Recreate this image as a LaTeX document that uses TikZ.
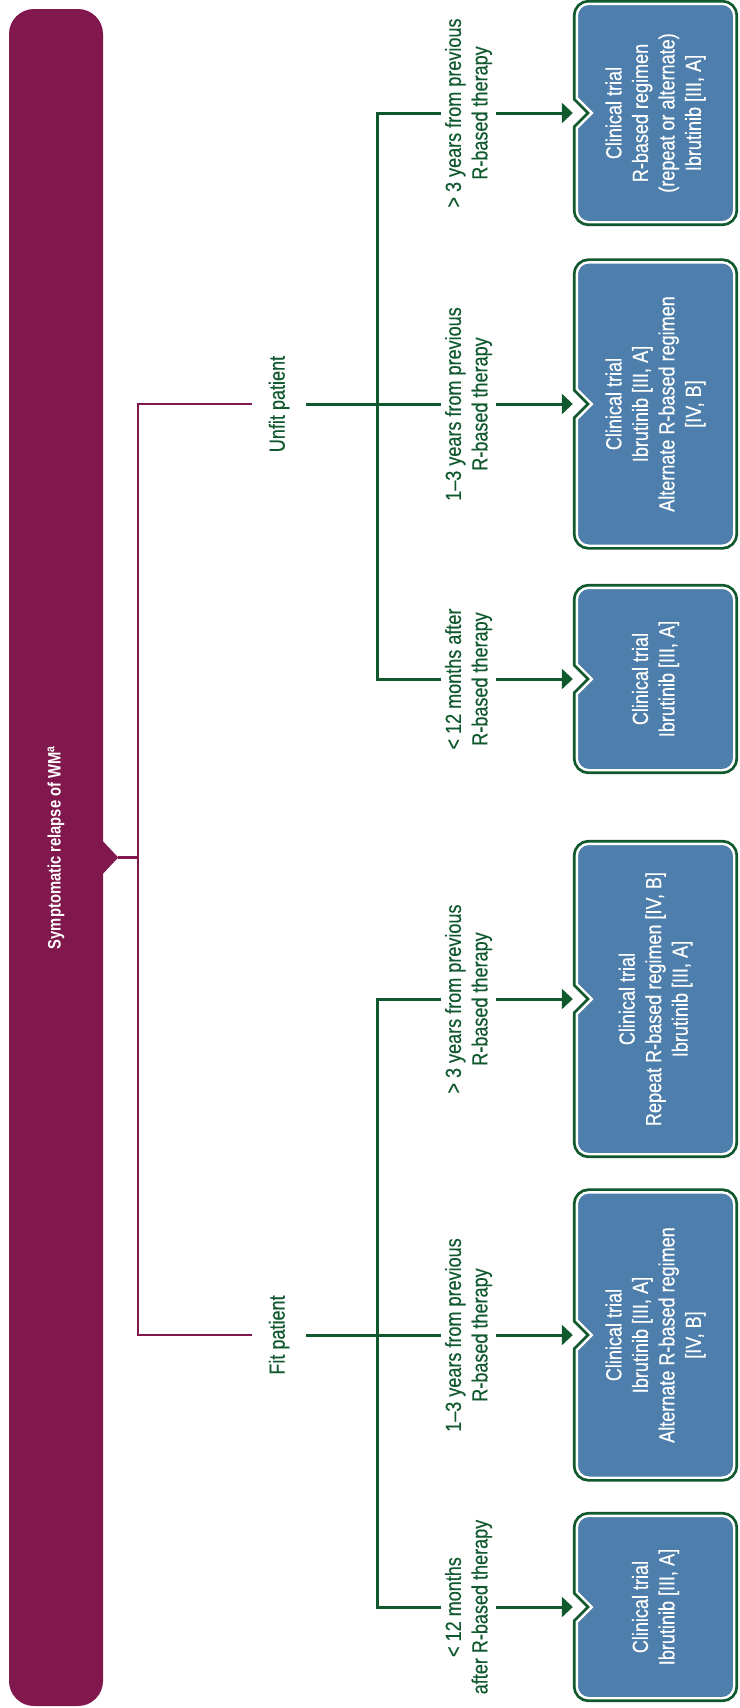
\documentclass[tikz,border=0pt]{standalone}
\usepackage{fontspec}
\setmainfont{Liberation Sans}[FakeStretch=0.82, UprightFeatures={FakeBold=0.4}]
\usetikzlibrary{arrows.meta,calc,backgrounds}
\definecolor{wmmaroon}{RGB}{128,24,78}
\definecolor{wmblue}{RGB}{78,127,172}
\definecolor{wmgreen}{RGB}{16,88,46}

\begin{document}
\begin{tikzpicture}[x=1pt, y=-1pt, >={Triangle[length=11pt,width=20pt]},
  trial/.style={rotate=90, text=white, align=center, inner sep=0pt, minimum height=157pt, font=\fontsize{22}{26.5}\selectfont},
  cond/.style={rotate=90, text=wmgreen, align=center, inner xsep=0pt, inner ysep=4pt, font=\fontsize{22}{26.5}\selectfont},
  patient/.style={cond, inner ysep=17pt},
  gline/.style={draw=wmgreen, line width=3pt},
  mline/.style={draw=wmmaroon, line width=2.5pt},
  trialedge/.style={draw=white, line width=2.4pt, fill=wmblue, preaction={draw=wmgreen, line width=8pt}}]

  \useasboundingbox (0,0) rectangle (739,1708);

  % main bar
  \node[rotate=90, fill=wmmaroon, rounded corners=25pt, minimum width=1697pt, minimum height=94pt, inner sep=0pt, text=white, font=\fontsize{18}{22}\selectfont\bfseries] (relapse) at (56,857.5) {\hspace*{20pt}Symptomatic relapse of WM\textsuperscript{a}};
  \coordinate (tip) at ([xshift=15pt]relapse.south);
  \fill[wmmaroon] ([yshift=16pt]relapse.south) -- (tip) -- ([yshift=-16pt]relapse.south) -- cycle;

  % patients
  \node[patient] (unfit) at (279,404) {Unfit patient};
  \node[patient] (fit) at (279,1335) {Fit patient};
  \coordinate (mtrunk) at (138,857.5);
  \draw[mline] (unfit.north) -| (mtrunk) |- (fit.north);
  \draw[mline] (tip) -- (mtrunk);

  % time since previous therapy
  \node[cond] (lu1) at (468.5,113) {> 3 years from previous\\R-based therapy};
  \node[cond] (lu2) at (468.5,404) {1--3 years from previous\\R-based therapy};
  \node[cond] (lu3) at (468.5,679) {< 12 months after\\R-based therapy};
  \node[cond] (lf1) at (468.5,999) {> 3 years from previous\\R-based therapy};
  \node[cond] (lf2) at (468.5,1335) {1--3 years from previous\\R-based therapy};
  \node[cond] (lf3) at (468.5,1607) {< 12 months\\after R-based therapy};
  \coordinate (utrunk) at (377,404);
  \coordinate (ftrunk) at (377,1335);

  % recommendations
  \node[trial, minimum width=218pt] (bu1) at (655.5,113) {Clinical trial\\R-based regimen\\(repeat or alternate)\\Ibrutinib [III, A]};
  \node[trial, minimum width=283pt] (bu2) at (655.5,404) {Clinical trial\\Ibrutinib [III, A]\\Alternate R-based regimen\\{[IV, B]}};
  \node[trial, minimum width=182pt] (bu3) at (655.5,679) {Clinical trial\\Ibrutinib [III, A]};
  \node[trial, minimum width=310pt] (bf1) at (655.5,999) {Clinical trial\\Repeat R-based regimen [IV, B]\\Ibrutinib [III, A]};
  \node[trial, minimum width=285pt] (bf2) at (655.5,1335) {Clinical trial\\Ibrutinib [III, A]\\Alternate R-based regimen\\{[IV, B]}};
  \node[trial, minimum width=182pt] (bf3) at (655.5,1607) {Clinical trial\\Ibrutinib [III, A]};

  \begin{scope}[on background layer]
    \foreach \bx in {bu1,bu2,bu3,bf1,bf2,bf3}
      \path[trialedge] (\bx.east) [rounded corners=12pt] -- (\bx.south east) -- (\bx.south west) -- (\bx.north west) -- ([yshift=-35pt]\bx.north) [sharp corners] -- ([yshift=-15pt]\bx.north) -- ([xshift=15pt]\bx.north) -- ([yshift=15pt]\bx.north) -- ([yshift=35pt]\bx.north) [rounded corners=12pt] -- (\bx.north east) -- cycle;
  \end{scope}

  \draw[gline] (lu1.north) -| (utrunk) |- (lu3.north);
  \draw[gline] (unfit.south) -- (lu2.north);
  \draw[gline] (lf1.north) -| (ftrunk) |- (lf3.north);
  \draw[gline] (fit.south) -- (lf2.north);
  \foreach \lb/\bx in {lu1/bu1,lu2/bu2,lu3/bu3,lf1/bf1,lf2/bf2,lf3/bf3}
    \draw[gline, ->, shorten >=4pt] (\lb.south) -- (\bx.north);
\end{tikzpicture}
\end{document}
